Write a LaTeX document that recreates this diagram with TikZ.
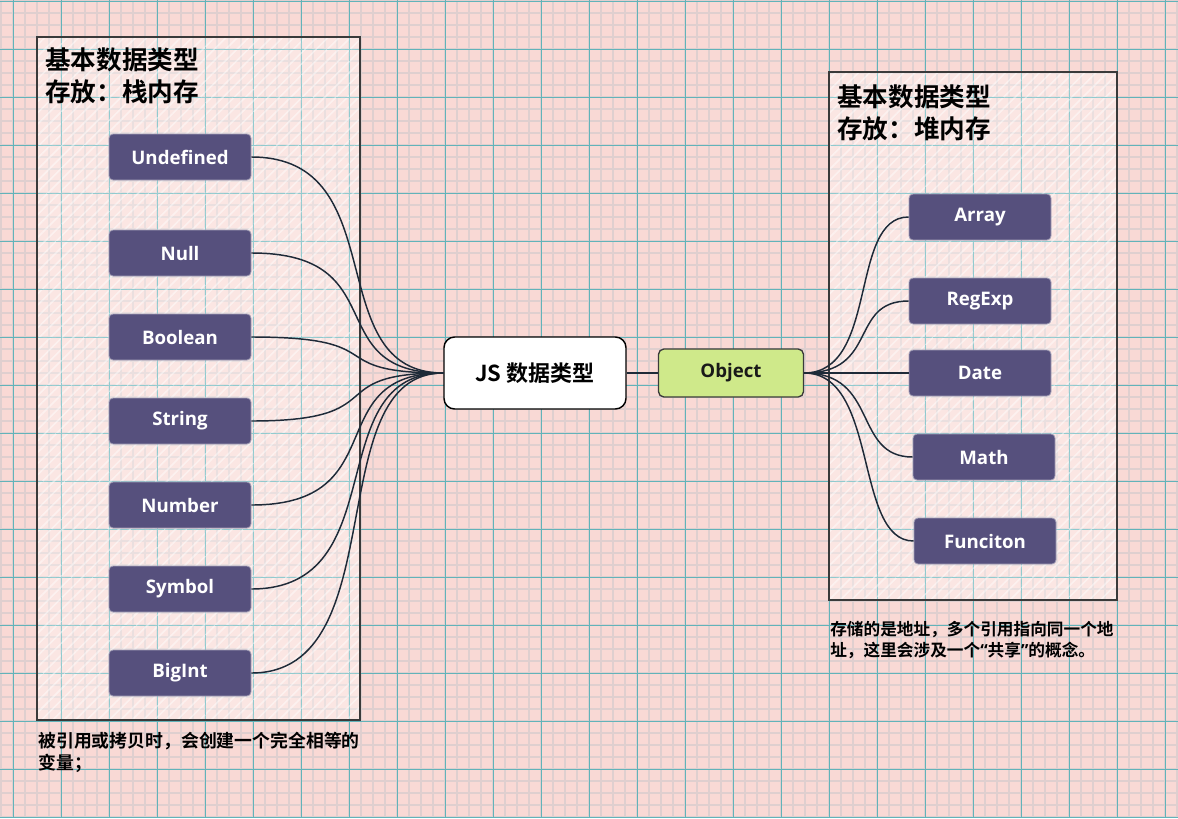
\documentclass[tikz,border=0pt]{standalone}
\usepackage{fontspec}
\setmainfont{Open Sans}
\newfontfamily\cjk{Noto Sans CJK SC}[BoldFont={Noto Sans CJK SC Bold}]
\usetikzlibrary{patterns.meta}
\definecolor{paper}{HTML}{F9D9D5}
\definecolor{finegrid}{HTML}{DFCFCF}
\definecolor{maingrid}{HTML}{62B3B9}
\definecolor{typefill}{HTML}{56507D}
\definecolor{objfill}{HTML}{CFE98A}
\definecolor{linkcol}{HTML}{1E2A38}
\definecolor{framecol}{HTML}{3A3A3A}
\tikzset{
  typebox/.style={rectangle, rounded corners=3pt, fill=typefill, draw=typefill!55!white,
    line width=0.6pt, minimum width=106.5pt, minimum height=34.5pt, inner sep=0pt,
    text=white, font=\fontsize{14}{16}\selectfont\bfseries},
  rootbox/.style={rectangle, rounded corners=8pt, fill=white, draw=black, line width=1.1pt,
    minimum width=136.5pt, minimum height=54pt, inner sep=0pt,
    font=\cjk\fontsize{16.5}{20}\selectfont\bfseries},
  objbox/.style={rectangle, rounded corners=4pt, fill=objfill, draw=framecol, line width=1pt,
    minimum width=108.75pt, minimum height=36pt, inner sep=0pt,
    text=black!90, font=\fontsize{14}{16}\selectfont\bfseries},
  heading/.style={anchor=north west, inner sep=0pt, align=left,
    font=\cjk\fontsize{19.2}{24}\selectfont\bfseries},
  note/.style={anchor=north west, inner sep=0pt, align=left,
    font=\cjk\fontsize{13.4}{16.5}\selectfont\bfseries},
  link/.style={draw=linkcol, line width=1.1pt},
  panelfill/.style={fill=white, fill opacity=0.35},
  panelhatch/.style={pattern={Lines[angle=45,distance=6pt,line width=1.2pt]}, pattern color=white, opacity=0.45},
  panelline/.style={draw=framecol, line width=1pt}
}
\begin{document}
\begin{tikzpicture}[x=0.75pt, y=-0.75pt]
  \fill[paper] (0,0) rectangle (1178,818);
  \useasboundingbox (0,0) rectangle (1178,818);
  \foreach \g in {1,13,...,1177} \draw[finegrid, line width=1.5pt] (\g,0) -- (\g,818);
  \foreach \g in {1,13,...,817} \draw[finegrid, line width=1.5pt] (0,\g) -- (1178,\g);
  \foreach \g in {13,61,...,1165} \draw[maingrid, line width=0.75pt] (\g,0) -- (\g,818);
  \foreach \g in {1,49,...,817} \draw[maingrid, line width=0.75pt] (0,\g) -- (1178,\g);

  \foreach \xa/\ya/\xb/\yb in {37/37/360/720, 829/72/1117/600} {
    \fill[panelfill] (\xa,\ya) rectangle (\xb,\yb);
    \fill[panelhatch] (\xa,\ya) rectangle (\xb,\yb);
    \begin{scope}
      \clip (\xa,\ya) rectangle (\xb,\yb);
      \foreach \g in {13,61,...,1165} \draw[maingrid!70!white, line width=0.75pt, dash pattern=on 4pt off 3pt] (\g,0) -- (\g,818);
      \foreach \g in {1,49,...,817} \draw[maingrid!70!white, line width=0.75pt, dash pattern=on 4pt off 3pt] (0,\g) -- (1178,\g);
    \end{scope}
    \draw[panelline] (\xa,\ya) rectangle (\xb,\yb);
  }

  \node[heading] (stacktitle) at (45,47) {基本数据类型\\存放：栈内存};
  \node[heading] (heaptitle) at (837,84) {基本数据类型\\存放：堆内存};
  \node[note] (stacknote) at (38,732) {被引用或拷贝时，会创建一个完全相等的\\变量；};
  \node[note, font=\cjk\fontsize{12.5}{16}\selectfont\bfseries] (heapnote) at (830,621)
    {存储的是地址，多个引用指向同一个地\\址，这里会涉及一个{\rmfamily“}共享{\rmfamily”}的概念。};

  \node[typebox] (undef) at (180,157) {Undefined};
  \node[typebox] (null) at (180,253) {Null};
  \node[typebox] (bool) at (180,337) {Boolean};
  \node[typebox] (str) at (180,421) {String};
  \node[typebox] (num) at (180,505) {Number};
  \node[typebox] (sym) at (180,589) {Symbol};
  \node[typebox] (bigint) at (180,673) {BigInt};
  \node[rootbox] (js) at (535,373) {JS 数据类型};
  \node[objbox] (obj) at (731,373) {Object};
  \node[typebox] (array) at (980,217) {Array};
  \node[typebox] (regexp) at (980,301) {RegExp};
  \node[typebox] (date) at (980,373) {Date};
  \node[typebox] (math) at (984,457) {Math};
  \node[typebox] (func) at (985,541) {Funciton};

  \begin{scope}[link, to path={.. controls +(145,0) and +(-125,0) .. (\tikztotarget)}]
    \draw (undef.east) to (js.west);
    \draw (null.east) to (js.west);
    \draw (bool.east) to (js.west);
    \draw (str.east) to (js.west);
    \draw (num.east) to (js.west);
    \draw (sym.east) to (js.west);
    \draw (bigint.east) to (js.west);
  \end{scope}
  \draw[link, line width=2.2pt] (js.east) -- (obj.west);
  \begin{scope}[link, to path={.. controls +(75,0) and +(-60,0) .. (\tikztotarget)}]
    \draw (obj.east) to (array.west);
    \draw (obj.east) to (regexp.west);
    \draw (obj.east) to (date.west);
    \draw (obj.east) to (math.west);
    \draw (obj.east) to (func.west);
  \end{scope}
\end{tikzpicture}
\end{document}
